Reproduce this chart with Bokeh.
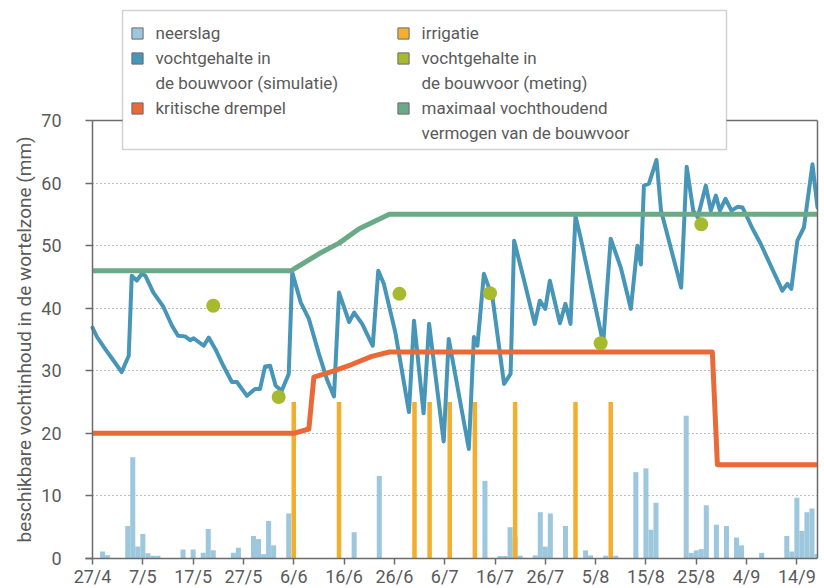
from bokeh.plotting import figure
from bokeh.models import (Range1d, FixedTicker, LinearAxis, BoxAnnotation,
                          Legend, LegendItem, Title)
from bokeh.embed import file_html
from bokeh.resources import INLINE

# ---------------- data (days counted from 27/4) ----------------
tick_days = [0, 10, 20, 30, 40, 50, 60, 70, 80, 90, 100, 110, 120, 130, 140]
tick_labels = ["27/4", "7/5", "17/5", "27/5", "6/6", "16/6", "26/6", "6/7",
               "16/7", "26/7", "5/8", "15/8", "25/8", "4/9", "14/9"]
y_ticks = [0, 10, 20, 30, 40, 50, 60, 70]
grid_ticks = [10, 20, 30, 40, 50, 60]

rain_days = [2, 3, 7, 8, 9, 10, 11, 12, 13, 18, 20, 22, 23, 24, 28, 29, 32, 33, 34,
             35, 36, 39, 52, 57, 78, 81, 82, 83, 84, 85, 88, 89, 90, 91, 94, 98, 99,
             102, 104, 108, 110, 111, 112, 118, 119, 120, 121, 122, 124, 126, 128,
             129, 133, 138, 139, 140, 141, 142, 143, 144]
rain_mm = [1.1, 0.5, 5.2, 16.2, 1.9, 3.9, 0.85, 0.45, 0.45, 1.45, 1.45, 0.9, 4.7,
           1.3, 0.9, 1.7, 3.6, 3.1, 0.7, 6.0, 2.1, 7.2, 4.2, 13.2, 12.4, 0.4, 0.4,
           5.0, 3.5, 0.45, 0.5, 7.4, 1.9, 7.2, 5.2, 1.3, 0.5, 0.45, 0.45, 13.8,
           14.4, 4.6, 8.9, 22.8, 0.9, 1.3, 1.5, 8.5, 5.4, 5.2, 3.35, 2.1, 0.9, 3.6,
           1.1, 9.7, 4.4, 7.4, 8.0, 0.7]

irr_days = [40, 49, 64, 67, 71, 76, 84, 96, 103]
irr_mm = [25, 25, 25, 25, 25, 25, 25, 25, 25]

sim_days = [0, 0.9, 2.5, 4.2, 5.8, 7.2, 7.8, 8.8, 9.8, 10.5, 12.1, 14.1, 15.8, 17.0,
            18.4, 19.4, 20.1, 22.1, 23.1, 24.4, 26.0, 27.7, 28.7, 30.7, 32.3, 33.3,
            34.3, 35.3, 36.4, 37.6, 39.0, 39.7, 41.4, 43.0, 45.0, 46.7, 48.0, 49.0,
            51.0, 52.0, 53.6, 55.7, 56.8, 57.9, 60.2, 62.9, 63.9, 65.8, 66.9, 69.8,
            70.8, 74.8, 75.8, 76.5, 77.8, 79.5, 81.8, 83.1, 83.8, 85.8, 87.9, 88.9,
            90.0, 90.9, 92.9, 94.0, 95.0, 96.0, 97.0, 101.5, 103.0, 105.0, 107.0,
            108.3, 109.0, 109.6, 110.6, 112.1, 113.0, 117.0, 118.1, 119.4, 120.3,
            121.9, 122.9, 123.9, 124.7, 125.8, 127.0, 128.2, 129.2, 131.2, 132.8,
            137.1, 138.1, 138.9, 140.1, 141.4, 143.1, 144.1]
sim_mm = [36.9, 35.4, 33.5, 31.6, 29.8, 32.4, 45.2, 44.4, 45.5, 45.2, 42.5, 40.2,
          37.2, 35.6, 35.5, 34.9, 35.2, 34.0, 35.3, 33.5, 30.8, 28.2, 28.2, 26.0,
          27.1, 27.1, 30.7, 30.8, 27.6, 26.8, 29.5, 45.7, 40.9, 38.3, 32.7, 28.4,
          25.9, 42.5, 37.8, 39.3, 37.5, 34.0, 46.0, 43.9, 36.1, 23.4, 38.0, 23.2,
          37.5, 18.7, 35.1, 17.5, 35.4, 34.0, 45.5, 41.7, 27.9, 29.5, 50.8, 44.4,
          37.5, 41.2, 39.9, 44.4, 37.6, 40.7, 37.5, 54.7, 51.3, 34.4, 51.1, 46.5,
          39.9, 50.0, 47.0, 59.6, 59.9, 63.7, 55.6, 43.3, 62.6, 55.6, 54.5, 59.6,
          55.6, 58.0, 55.6, 57.5, 55.6, 56.2, 56.1, 52.7, 50.3, 42.8, 43.9, 43.1,
          50.8, 52.9, 63.0, 56.1]

meas_days = [24, 37, 61, 79, 101, 121]
meas_mm = [40.4, 25.8, 42.3, 42.4, 34.4, 53.4]

thr_days = [0, 40, 43, 44, 48, 51.5, 55.5, 59, 123.2, 124.2, 144]
thr_mm = [20, 20, 20.7, 29, 30, 31, 32.3, 33, 33, 15, 15]

max_days = [0, 39.5, 45, 49, 53, 59, 144]
max_mm = [46, 46, 48.7, 50.4, 52.7, 55, 55]

# legend lines, column by column; None = continuation line without swatch
legend_rows = [("neerslag", "rain"), ("vochtgehalte in", "sim"),
               ("de bouwvoor (simulatie)", None), ("kritische drempel", "thr"),
               (" ", None),
               ("irrigatie", "irr"), ("vochtgehalte in", "meas"),
               ("de bouwvoor (meting)", None), ("maximaal vochthoudend", "max"),
               ("vermogen van de bouwvoor", None)]
y_title = "beschikbare vochtinhoud in de wortelzone (mm)"

# ---------------- styles / layout ----------------
COL = {"rain": "#9cc7dc", "sim": "#4796b8", "thr": "#e96a39",
       "irr": "#f4ae2f", "meas": "#a7b92e", "max": "#6aaa86"}
AX = "#6b6b6b"
TXT = "#5a5a5a"
FONT = "Roboto"

X0, X1 = -10.736, 144.1       # visible day range (axis at day 0)
Y0, Y1 = -4.795, 89.18        # visible mm range (axis at 0 mm)

p = figure(width=824, height=588, output_backend="svg", toolbar_location=None,
           x_range=Range1d(X0, X1), y_range=Range1d(Y0, Y1),
           min_border_left=38, min_border_right=7, min_border_top=0,
           min_border_bottom=0)
p.outline_line_color = None
p.xgrid.grid_line_color = None
p.ygrid.ticker = FixedTicker(ticks=grid_ticks)
p.ygrid.cross_bounds = (0, X1)
p.ygrid.grid_line_color = "#7a7a7a"
p.ygrid.grid_line_dash = "1 3"
p.ygrid.grid_line_width = 1.2

xa = p.xaxis[0]
xa.ticker = FixedTicker(ticks=tick_days)
xa.major_label_overrides = {d: l for d, l in zip(tick_days, tick_labels)}
xa.fixed_location = 0
xa.bounds = (-1.4, X1)
xa.major_tick_out = 6
xa.major_tick_in = 0
xa.major_label_standoff = 2

ya = p.yaxis[0]
ya.ticker = FixedTicker(ticks=y_ticks)
ya.fixed_location = 0
ya.bounds = (0, 70)
ya.major_tick_out = 7
ya.major_tick_in = 0
ya.major_label_standoff = 24

for ax in (xa, ya):
    ax.axis_line_color = AX
    ax.axis_line_width = 1.5
    ax.major_tick_line_color = AX
    ax.major_tick_line_width = 1.5
    ax.minor_tick_line_color = None
    ax.major_label_text_font = FONT
    ax.major_label_text_font_size = "18px"
    ax.major_label_text_color = TXT

# right border of the plot box
ra = LinearAxis(bounds=(0, 70), ticker=FixedTicker(ticks=[]),
                axis_line_color=AX, axis_line_width=1.5,
                major_tick_line_color=None, minor_tick_line_color=None,
                major_tick_out=0, major_tick_in=0, major_label_standoff=0,
                major_label_text_font_size="0px")
p.add_layout(ra, "right")

# top border of the plot box (at 70 mm)
ta = LinearAxis(fixed_location=70, bounds=(0, X1), ticker=FixedTicker(ticks=[]),
                axis_line_color=AX, axis_line_width=1.5,
                major_tick_line_color=None, minor_tick_line_color=None,
                major_tick_out=0, major_tick_in=0, major_label_standoff=0,
                major_label_text_font_size="0px")
p.add_layout(ta, "above")

# y axis title
p.add_layout(Title(text=y_title, align="left", offset=46, standoff=6,
                   text_font=FONT, text_font_size="19px", text_font_style="normal",
                   text_color=TXT), "left")

# ---------------- marks ----------------
p.vbar(x=rain_days, top=rain_mm, bottom=0, width=1.0, fill_color=COL["rain"], line_color=None)
p.vbar(x=irr_days, top=irr_mm, bottom=0, width=0.9, fill_color=COL["irr"], line_color=None)
p.line(sim_days, sim_mm, line_color=COL["sim"], line_width=4, line_join="round", line_cap="round")
p.line(thr_days, thr_mm, line_color=COL["thr"], line_width=5, line_join="round")
p.line(max_days, max_mm, line_color=COL["max"], line_width=5, line_join="round")
p.scatter(meas_days, meas_mm, size=14, fill_color=COL["meas"], line_color=None)

# legend box
p.add_layout(BoxAnnotation(left=84, right=688, bottom=439, top=578,
                           left_units="screen", right_units="screen",
                           bottom_units="screen", top_units="screen",
                           fill_color="white", fill_alpha=1.0,
                           line_color=AX, line_width=1.5))

# legend swatches: hidden renderers built from each series, used only for the legend
series = {"rain": (rain_days, rain_mm), "sim": (sim_days, sim_mm),
          "thr": (thr_days, thr_mm), "irr": (irr_days, irr_mm),
          "meas": (meas_days, meas_mm), "max": (max_days, max_mm)}
items = []
for lab, key in legend_rows:
    if key is None:
        items.append(LegendItem(label=lab, renderers=[]))
        continue
    xs, ys = series[key]
    r = p.quad(left=xs[:1], right=xs[:1], top=ys[:1], bottom=ys[:1],
               fill_color=COL[key], line_color=AX, line_width=1, visible=False)
    items.append(LegendItem(label=lab, renderers=[r]))

legend = Legend(items=items, location=(91.5, 444), orientation="vertical", ncols=2,
                padding=0, margin=0, spacing=3, label_standoff=12,
                glyph_width=14, glyph_height=14, label_width=237, label_height=22,
                label_text_font=FONT, label_text_font_size="17px",
                label_text_color=TXT, label_text_line_height=1.0,
                border_line_color=None, background_fill_alpha=0)
p.add_layout(legend)

open("out.html", "w").write(file_html(p, INLINE))
